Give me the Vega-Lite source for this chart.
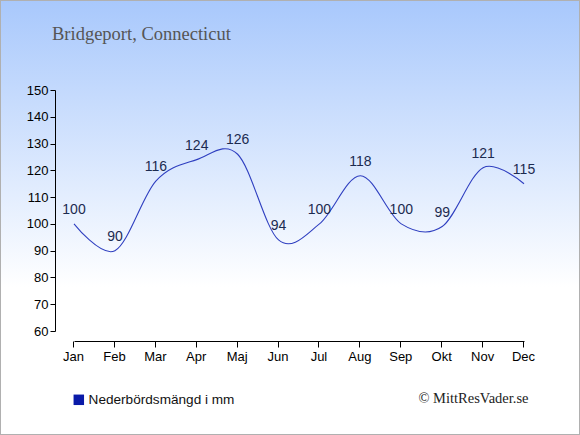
{
  "$schema": "https://vega.github.io/schema/vega-lite/v6.json",
  "width": 580,
  "height": 435,
  "autosize": "none",
  "padding": 0,
  "config": {
    "view": {
      "fill": {"gradient": "linear", "x1": 0, "y1": 0, "x2": 0, "y2": 1,
        "stops": [{"offset": 0, "color": "#a8c8fc"}, {"offset": 0.66, "color": "#ffffff"}, {"offset": 1, "color": "#ffffff"}]},
      "stroke": "#b0b0b0",
      "strokeWidth": 2
    },
    "axis": {"labelFont": "Liberation Sans", "labelFontSize": 13, "labelColor": "#000000", "domainColor": "#000000", "tickColor": "#000000", "tickSize": 5, "ticks": true, "grid": false}
  },
  "title": {"text": "Bridgeport, Connecticut", "anchor": "start", "frame": "group", "orient": "top", "offset": -43, "dx": 52, "font": "Liberation Serif", "fontSize": 18.5, "fontWeight": "normal", "color": "#555555"},
  "data": {"values": [
    {"month": "Jan", "mm": 100},
    {"month": "Feb", "mm": 90},
    {"month": "Mar", "mm": 116},
    {"month": "Apr", "mm": 124},
    {"month": "Maj", "mm": 126},
    {"month": "Jun", "mm": 94},
    {"month": "Jul", "mm": 100},
    {"month": "Aug", "mm": 118},
    {"month": "Sep", "mm": 100},
    {"month": "Okt", "mm": 99},
    {"month": "Nov", "mm": 121},
    {"month": "Dec", "mm": 115}
  ]},
  "encoding": {
    "x": {"field": "month", "type": "ordinal", "sort": null,
      "scale": {"type": "point", "range": [74, 524], "padding": 0},
      "axis": {"orient": "bottom", "offset": -94, "labelAngle": 0, "labelPadding": 3,
        "ticks": true, "tickSize": 6, "tickWidth": 1, "tickOpacity": 1, "tickColor": "#000000", "tickBand": "center", "tickOffset": -1,
        "title": "© MittResVader.se", "titleFont": "Liberation Serif", "titleFontSize": 14.5, "titleFontWeight": "normal", "titleColor": "#222222",
        "titleAlign": "right", "titleAnchor": null, "titleX": 528, "titleY": 57, "titleBaseline": "middle"}},
    "y": {"field": "mm", "type": "quantitative",
      "scale": {"domain": [60, 150], "range": [331, 90], "nice": false, "zero": false},
      "axis": {"orient": "left", "offset": -55, "values": [60, 70, 80, 90, 100, 110, 120, 130, 140, 150], "title": null, "labelPadding": 2}}
  },
  "layer": [
    {
      "mark": {"type": "line", "interpolate": "cardinal", "strokeWidth": 1.1},
      "encoding": {
        "color": {"datum": "Nederbördsmängd i mm", "type": "nominal",
          "scale": {"range": ["#2f3fc0"]},
          "legend": {"orient": "none", "legendX": 72, "legendY": 393, "title": null, "symbolType": "square", "symbolSize": 110,
            "symbolFillColor": "#0a1aa8", "symbolStrokeColor": "#0a1aa8", "symbolStrokeWidth": 0,
            "labelFont": "Liberation Sans", "labelFontSize": 13.6, "labelColor": "#111111", "labelOffset": 3}}
      }
    },
    {
      "mark": {"type": "text", "font": "Liberation Sans", "fontSize": 14, "color": "#1c2b50", "dy": -14, "baseline": "middle"},
      "encoding": {"text": {"field": "mm", "type": "quantitative"}}
    }
  ]
}
